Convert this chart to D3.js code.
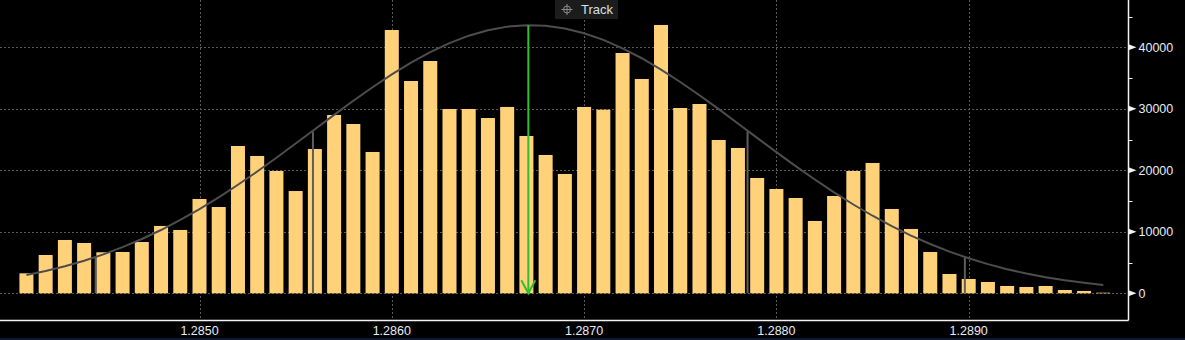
<!DOCTYPE html>
<html>
<head>
<meta charset="utf-8">
<script src="https://cdn.jsdelivr.net/npm/d3@7"></script>
<style>
  html, body { margin: 0; padding: 0; background: #000; }
  svg { display: block; }
  text { font-family: "Liberation Sans", Arial, sans-serif; }
</style>
</head>
<body>
<svg id="chart"></svg>
<script>
// Price levels (bins) and traded volume per bin
const prices = [
  1.2841, 1.2842, 1.2843, 1.2844, 1.2845, 1.2846, 1.2847, 1.2848, 1.2849, 1.2850,
  1.2851, 1.2852, 1.2853, 1.2854, 1.2855, 1.2856, 1.2857, 1.2858, 1.2859, 1.2860,
  1.2861, 1.2862, 1.2863, 1.2864, 1.2865, 1.2866, 1.2867, 1.2868, 1.2869, 1.2870,
  1.2871, 1.2872, 1.2873, 1.2874, 1.2875, 1.2876, 1.2877, 1.2878, 1.2879, 1.2880,
  1.2881, 1.2882, 1.2883, 1.2884, 1.2885, 1.2886, 1.2887, 1.2888, 1.2889, 1.2890,
  1.2891, 1.2892, 1.2893, 1.2894, 1.2895, 1.2896, 1.2897
];
const volumes = [
  3250, 6230, 8670, 8180, 6670, 6720, 8340, 10950, 10300, 15330,
  14030, 23950, 22330, 19890, 16630, 23460, 28990, 27530, 22980, 42810,
  34520, 37770, 29970, 29970, 28500, 30300, 25580, 22490, 19400, 30300,
  29860, 39070, 34850, 43630, 30130, 30780, 24930, 23630, 18750, 16960,
  15500, 11760, 15820, 19890, 21190, 13710, 10460, 6720, 3140, 2330,
  1840, 1190, 1030, 1190, 540, 380, 100
];
// Normal-distribution overlay, read at each bin
const curve = [
  2970, 3630, 4400, 5300, 6330, 7500, 8830, 10290, 11920, 13690,
  15600, 17650, 19800, 22040, 24350, 26680, 29010, 31300, 33510, 35590,
  37510, 39220, 40690, 41890, 42780, 43360, 43590, 43490, 43050, 42280,
  41200, 39840, 38220, 36380, 34360, 32200, 29940, 27620, 25280, 22960,
  20680, 18500, 16410, 14440, 12610, 10930, 9390, 8010, 6780, 5690,
  4740, 3920, 3220, 2620, 2120, 1700, 1350
];
// Mean and +/-1, +/-2 sigma markers
const meanPrice = 1.28671;
const meanHeight = 43600;
const sigmaPrices = [1.28446, 1.28559, 1.28785, 1.28898];
const sigmaHeights = [5900, 26300, 26300, 5900];
// Axis ticks
const xTicks = [1.2850, 1.2860, 1.2870, 1.2880, 1.2890];
const yTicks = [0, 10000, 20000, 30000, 40000];
const yMinor = [5000, 15000, 25000, 35000, 45000];

const W = 1185, H = 340;
const svg = d3.select("#chart").attr("width", W).attr("height", H);

const axisX = 1128.5, axisY = 320.5;

const x = d3.scaleLinear().domain([1.2850, 1.2890]).range([199.5, 968.7]);
const y = d3.scaleLinear().domain([0, 40000]).range([293.3, 47.3]);

svg.append("rect").attr("width", W).attr("height", H).attr("fill", "#000");

// bottom strip
svg.append("rect").attr("x", 0).attr("y", 338).attr("width", W).attr("height", 2).attr("fill", "#0b1a30");

// grid
const grid = svg.append("g").attr("stroke", "#5a5a5a").attr("stroke-width", 1).attr("stroke-dasharray", "2,2");
grid.selectAll(".h").data(yTicks).enter().append("line")
  .attr("x1", 0).attr("x2", axisX)
  .attr("y1", d => Math.round(y(d)) + 0.5).attr("y2", d => Math.round(y(d)) + 0.5);
grid.selectAll(".v").data(xTicks).enter().append("line")
  .attr("x1", d => Math.round(x(d)) + 0.5).attr("x2", d => Math.round(x(d)) + 0.5)
  .attr("y1", 0).attr("y2", axisY);

// bars
const step = x(1.2851) - x(1.2850);
const bw = 14;
svg.append("g").selectAll("rect").data(prices).enter().append("rect")
  .attr("x", d => x(d) - bw / 2)
  .attr("width", bw)
  .attr("y", (d, i) => y(volumes[i]))
  .attr("height", (d, i) => y(0) - y(volumes[i]))
  .attr("fill", "#ffd27a");

// sigma lines
svg.append("g").selectAll("line").data(sigmaPrices).enter().append("line")
  .attr("x1", d => x(d)).attr("x2", d => x(d))
  .attr("y1", y(0)).attr("y2", (d, i) => y(sigmaHeights[i]))
  .attr("stroke", "#5e5e5e").attr("stroke-width", 2);

// curve
svg.append("path")
  .datum(prices)
  .attr("fill", "none")
  .attr("stroke", "#4d4d4d")
  .attr("stroke-width", 2)
  .attr("d", d3.line().x(d => x(d)).y((d, i) => y(curve[i])));

// mean arrow
const mx = x(meanPrice);
svg.append("line")
  .attr("x1", mx).attr("x2", mx).attr("y1", y(meanHeight)).attr("y2", y(0))
  .attr("stroke", "#2fbf2f").attr("stroke-width", 2);
svg.append("path")
  .attr("d", `M${mx - 7},${y(0) - 13} L${mx},${y(0)} L${mx + 7},${y(0) - 13}`)
  .attr("fill", "none").attr("stroke", "#2fbf2f").attr("stroke-width", 2);

// axes lines
svg.append("line").attr("x1", 0).attr("x2", axisX).attr("y1", axisY).attr("y2", axisY)
  .attr("stroke", "#f2f2f2").attr("stroke-width", 1.5);
svg.append("line").attr("x1", axisX).attr("x2", axisX).attr("y1", 0).attr("y2", axisY)
  .attr("stroke", "#f2f2f2").attr("stroke-width", 1.5);

// x labels
svg.append("g").selectAll("text").data(xTicks).enter().append("text")
  .attr("x", d => x(d)).attr("y", 335)
  .attr("text-anchor", "middle")
  .attr("font-size", 12.5)
  .attr("fill", "#e6edf5")
  .text(d => d.toFixed(4));

// y ticks
const ya = svg.append("g");
ya.selectAll("path").data(yTicks).enter().append("path")
  .attr("d", d => `M${axisX},${y(d) - 3} L${axisX + 8},${y(d)} L${axisX},${y(d) + 3} Z`)
  .attr("fill", "#f2f2f2");
ya.selectAll("line").data(yMinor).enter().append("line")
  .attr("x1", axisX).attr("x2", axisX + 4)
  .attr("y1", d => Math.round(y(d)) + 0.5).attr("y2", d => Math.round(y(d)) + 0.5)
  .attr("stroke", "#f2f2f2").attr("stroke-width", 1);
ya.selectAll("text").data(yTicks).enter().append("text")
  .attr("x", axisX + 10).attr("y", d => y(d) + 4.5)
  .attr("font-size", 12.5)
  .attr("fill", "#e6edf5")
  .text(d => d);

// Track label
const tg = svg.append("g").attr("transform", "translate(555,0)");
tg.append("rect").attr("width", 63).attr("height", 19).attr("fill", "#1c1c1c");
tg.append("circle").attr("cx", 12).attr("cy", 9.5).attr("r", 3.5)
  .attr("fill", "none").attr("stroke", "#8a8a8a").attr("stroke-width", 1);
tg.append("path").attr("d", "M12,4 V15 M6.5,9.5 H17.5")
  .attr("stroke", "#8a8a8a").attr("stroke-width", 1);
tg.append("text").attr("x", 26).attr("y", 14).attr("font-size", 13)
  .attr("fill", "#d8e0e8").text("Track");
</script>
</body>
</html>
